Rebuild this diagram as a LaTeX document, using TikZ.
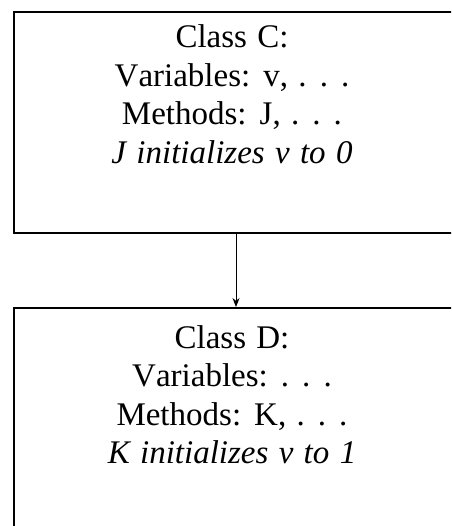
\documentclass[tikz,border=0pt]{standalone}
\usepackage{fontspec}
\setmainfont[Kerning=Off,WordSpace=1.25]{Liberation Serif}
\usetikzlibrary{arrows.meta}
\begin{document}
\begin{tikzpicture}[x=1pt,y=-1pt,
  classbox/.style={draw=black,line width=1.7pt,minimum width=448pt,minimum height=221pt,inner sep=0pt,anchor=north west},
  classtext/.style={align=center,inner sep=0pt,anchor=north,font=\fontsize{33}{38.5}\selectfont},
  link/.style={line width=0.9pt,-{Stealth[length=9pt,width=7pt]}}]
\useasboundingbox (0,0) rectangle (451,526);
\clip (0,0) rectangle (451,526);
\node[classbox] (cbox) at (13,11) {};
\node[classbox,minimum height=240pt] (dbox) at (13,307) {};
\node[classtext] (ctext) at (232,24.5) {Class C:\\Variables: v, . . .\\Methods: J, . . .\\\textit{J initializes v to 0}};
\node[classtext] (dtext) at (232,325) {Class D:\\Variables: . . .\\Methods: K, . . .\\\textit{K initializes v to 1}};
\draw[link] (cbox.south -| 236,0) -- (dbox.north -| 236,0);
\end{tikzpicture}
\end{document}
